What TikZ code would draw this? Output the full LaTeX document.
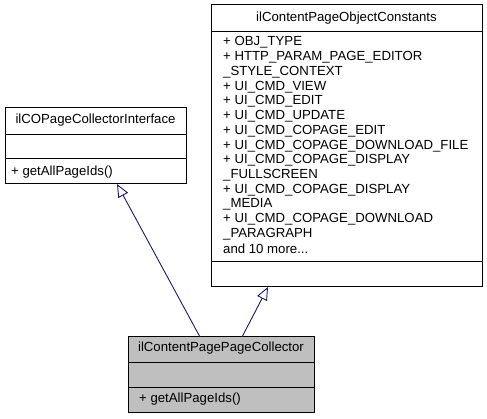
\documentclass[tikz,border=0pt]{standalone}
\usepackage{fontspec}
\setmainfont{Liberation Sans}
\usetikzlibrary{arrows.meta}
\definecolor{edgeblue}{HTML}{191970}
\definecolor{boxgray}{HTML}{BFBFBF}
\begin{document}
\begin{tikzpicture}[x=1pt,y=-1pt,
  box/.style={draw=black,line width=1pt,inner sep=0pt,outer sep=0pt},
  txt/.style={font=\fontsize{13.2}{14.7}\selectfont,inner sep=0pt},
  ltxt/.style={txt,anchor=west},
  inherit/.style={draw=edgeblue,line width=0.9pt,-{Triangle[open,length=13pt,width=11pt,fill=white]}}]
\useasboundingbox (0,0) rectangle (487,419);
% right box
\node[box,minimum width=271pt,minimum height=282pt] (consts) at (346.5,146) {};
\draw[line width=1pt] (211,32) -- (482,32);
\draw[line width=1pt] (211,262) -- (482,262);
\node[txt] (constsT) at (346.5,18.5) {ilContentPageObjectConstants};
\foreach \t [count=\i from 0] in {%
 {+ OBJ\_TYPE},
 {+ HTTP\_PARAM\_PAGE\_EDITOR},
 {\_STYLE\_CONTEXT},
 {+ UI\_CMD\_VIEW},
 {+ UI\_CMD\_EDIT},
 {+ UI\_CMD\_UPDATE},
 {+ UI\_CMD\_COPAGE\_EDIT},
 {+ UI\_CMD\_COPAGE\_DOWNLOAD\_FILE},
 {+ UI\_CMD\_COPAGE\_DISPLAY},
 {\_FULLSCREEN},
 {+ UI\_CMD\_COPAGE\_DISPLAY},
 {\_MEDIA},
 {+ UI\_CMD\_COPAGE\_DOWNLOAD},
 {\_PARAGRAPH},
 {and 10 more{.}{.}{.}}}
 { \node[ltxt] (attr\i) at (223,42.5+14.75*\i) {\t}; }
% left box
\node[box,minimum width=181pt,minimum height=76pt] (iface) at (95.5,146) {};
\draw[line width=1pt] (5,135) -- (186,135);
\draw[line width=1pt] (5,159) -- (186,159);
\node[txt] (ifaceT) at (95.5,120.5) {ilCOPageCollectorInterface};
\node[ltxt] (ifaceM) at (11,172) {+ getAllPageIds()};
% bottom box
\node[box,fill=boxgray,minimum width=186pt,minimum height=75pt] (coll) at (221,374.5) {};
\draw[line width=1pt] (128,362) -- (314,362);
\draw[line width=1pt] (128,387) -- (314,387);
\node[txt] (collT) at (221,348.5) {ilContentPagePageCollector};
\node[ltxt] (collM) at (139,399) {+ getAllPageIds()};
% connectors
\coordinate (c1s) at (200,337);
\coordinate (c1e) at (117,184);
\coordinate (c2s) at (242,337);
\coordinate (c2e) at (268,287);
\draw[inherit] (c1s) -- (c1e);
\draw[inherit] (c2s) -- (c2e);
\end{tikzpicture}
\end{document}
